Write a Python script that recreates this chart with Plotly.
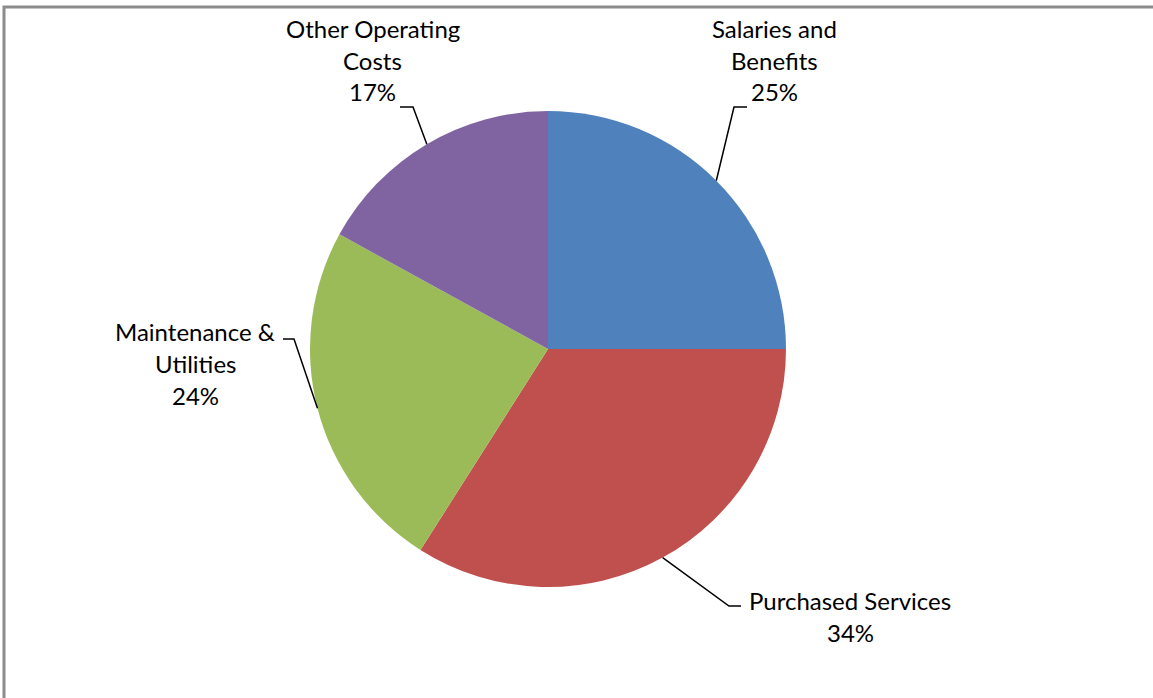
import math
import plotly.graph_objects as go

# ---- data ----
categories = ["Salaries and Benefits", "Purchased Services",
              "Maintenance & Utilities", "Other Operating Costs"]
values = [25, 34, 24, 17]
label_lines = [["Salaries and", "Benefits"], ["Purchased Services"],
               ["Maintenance &", "Utilities"], ["Other Operating", "Costs"]]
colors = ["#4F81BD", "#C0504D", "#9BBB59", "#8064A2"]

# ---- layout / style (pixels) ----
W, H = 1153, 698
CX, CY, R = 548, 349, 238
# text centre x, first-line y, leader elbow, leader end
label_style = [
    dict(tx=774, ty=28, elbow=(734, 107), end=(747, 107)),
    dict(tx=850, ty=600, elbow=(729, 606), end=(741, 606)),
    dict(tx=195, ty=331, elbow=(294, 339), end=(283, 339)),
    dict(tx=373, ty=28, elbow=(413, 107), end=(400, 107)),
]
LINE_STEP = 32
FONT = dict(family="Lato, Carlito, Calibri, sans-serif", size=24, color="black")


def px(x):
    return x / W


def py(y):
    return 1 - y / H


fig = go.Figure(go.Pie(
    labels=categories, values=values, sort=False, direction="clockwise",
    rotation=0, textinfo="none", hoverinfo="label+percent",
    marker=dict(colors=colors, line=dict(color="white", width=0)),
    domain=dict(x=[px(CX - R), px(CX + R)], y=[py(CY + R), py(CY - R)]),
    showlegend=False,
))

total = sum(values)
annotations = []
shapes = []
cum = 0
for v, lines, st in zip(values, label_lines, label_style):
    theta = 2 * math.pi * (cum + v / 2) / total
    cum += v
    ex = CX + R * math.sin(theta)
    ey = CY - R * math.cos(theta)
    (bx, by), (lx, ly) = st["elbow"], st["end"]
    shapes.append(dict(
        type="path", xref="paper", yref="paper",
        path=f"M {px(ex)} {py(ey)} L {px(bx)} {py(by)} L {px(lx)} {py(ly)}",
        line=dict(color="black", width=1.5)))
    pct = f"{round(100 * v / total)}%"
    for i, t in enumerate(lines + [pct]):
        annotations.append(dict(
            text=t, x=px(st["tx"]), y=py(st["ty"] + i * LINE_STEP),
            xref="paper", yref="paper", xanchor="center", yanchor="middle",
            showarrow=False, font=FONT))

# outer chart frame (cropped at right and bottom)
shapes.append(dict(type="rect", xref="paper", yref="paper",
                   x0=px(4), x1=px(W + 20), y0=py(H + 20), y1=py(7),
                   line=dict(color="#8C8C8C", width=3), layer="below"))

fig.update_layout(
    width=W, height=H, margin=dict(l=0, r=0, t=0, b=0),
    paper_bgcolor="white", plot_bgcolor="white",
    annotations=annotations, shapes=shapes,
)
fig.write_html("out.html",
               config={"displayModeBar": False},
               post_script="document.body.style.margin='0';"
                           "document.body.style.overflow='hidden';")
